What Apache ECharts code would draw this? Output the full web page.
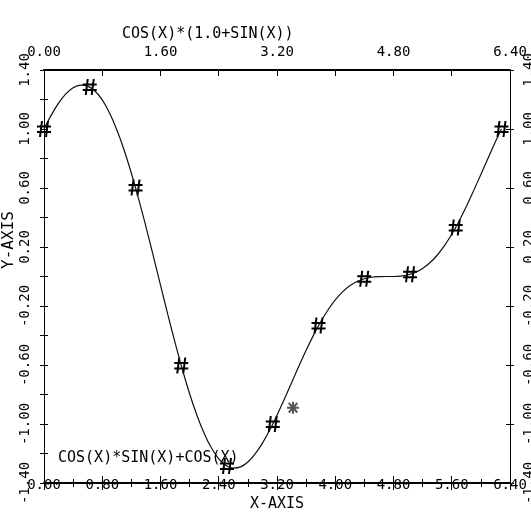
<!DOCTYPE html>
<html>
<head>
<meta charset="utf-8">
<script src="https://cdn.jsdelivr.net/npm/echarts@6/dist/echarts.min.js"></script>
<style>
  html, body { margin: 0; padding: 0; background: #fff; }
  #chart { width: 531px; height: 513px; }
</style>
</head>
<body>
<div id="chart"></div>
<script>
// curve samples
const xs = [0, 0.1, 0.2, 0.3, 0.4, 0.5, 0.6, 0.7, 0.8, 0.9, 1.0, 1.1, 1.2, 1.3, 1.4, 1.5,
  1.6, 1.7, 1.8, 1.9, 2.0, 2.1, 2.2, 2.3, 2.4, 2.5, 2.6, 2.7, 2.8, 2.9, 3.0, 3.1,
  3.2, 3.3, 3.4, 3.5, 3.6, 3.7, 3.8, 3.9, 4.0, 4.1, 4.2, 4.3, 4.4, 4.5, 4.6, 4.7,
  4.8, 4.9, 5.0, 5.1, 5.2, 5.3, 5.4, 5.5, 5.6, 5.7, 5.8, 5.9, 6.0, 6.1, 6.2, 6.2832];
const ys = [1.000, 1.094, 1.175, 1.238, 1.280, 1.298, 1.291, 1.258, 1.197, 1.109, 0.995, 0.858, 0.700, 0.525, 0.338, 0.141,
  -0.058, -0.257, -0.448, -0.629, -0.795, -0.941, -1.064, -1.163, -1.236, -1.281, -1.299, -1.291, -1.258, -1.203, -1.130, -1.041,
  -0.940, -0.832, -0.720, -0.608, -0.500, -0.399, -0.307, -0.227, -0.159, -0.104, -0.063, -0.034, -0.015, -0.005, -0.001, 0.000,
  0.000, 0.003, 0.012, 0.028, 0.055, 0.093, 0.144, 0.209, 0.286, 0.375, 0.474, 0.581, 0.692, 0.804, 0.914, 1.000];

// '#' markers
const markX = [0, 0.628, 1.257, 1.885, 2.513, 3.142, 3.770, 4.398, 5.027, 5.655, 6.283];
const markY = [1.000, 1.285, 0.603, -0.603, -1.285, -1.000, -0.333, -0.015, 0.015, 0.333, 1.000];

// stray '*' near the rising part
const starX = [3.42];
const starY = [-0.89];

// tick labels
const bottomLabels = [0, 0.8, 1.6, 2.4, 3.2, 4.0, 4.8, 5.6, 6.4];
const topLabels = [0, 1.6, 3.2, 4.8, 6.4];
const leftLabels = [-1.4, -1.0, -0.6, -0.2, 0.2, 0.6, 1.0, 1.4];

const FONT = 'DejaVu Sans Mono';
const seriesName = 'COS(X)*SIN(X)+COS(X)';

const hashPath = 'path://M4,0 L6,0 L4,16 L2,16 Z M10,0 L12,0 L10,16 L8,16 Z M0,4.5 L14,4.5 L14,6.5 L0,6.5 Z M0,10 L14,10 L14,12 L0,12 Z';
const starPath = 'path://M5,0 L7,0 L7,12 L5,12 Z M0,5 L12,5 L12,7 L0,7 Z M1,2 L2.5,0.5 L11,10 L9.5,11.5 Z M11,2 L2.5,11.5 L1,10 L9.5,0.5 Z';

function pick(list) {
  return function (v) {
    for (let i = 0; i < list.length; i++) {
      if (Math.abs(list[i] - v) < 1e-6) return list[i].toFixed(2);
    }
    return '';
  };
}

const black = '#000';
const lbl = { fontFamily: FONT, fontSize: 14, color: black };

const chart = echarts.init(document.getElementById('chart'), null, { renderer: 'canvas' });

chart.setOption({
  animation: false,
  backgroundColor: '#fff',
  textStyle: { fontFamily: FONT, color: black },
  title: {
    text: 'COS(X)*(1.0+SIN(X))',
    left: 122,
    top: 27,
    padding: 0,
    textStyle: { fontFamily: FONT, fontSize: 15, fontWeight: 'normal', color: black }
  },
  legend: {
    data: [seriesName],
    left: 53,
    top: 450,
    padding: 0,
    itemWidth: 0,
    itemHeight: 16,
    icon: 'none',
    selectedMode: false,
    textStyle: { fontFamily: FONT, fontSize: 15, color: black }
  },
  graphic: [{
    type: 'text',
    x: 9,
    y: 240,
    rotation: Math.PI / 2,
    style: { text: 'Y-AXIS', fontFamily: FONT, fontSize: 16, fill: black, align: 'center', verticalAlign: 'middle' }
  }],
  grid: { left: 44, right: 21, top: 70, bottom: 30, containLabel: false, outerBoundsMode: 'none' },
  xAxis: [
    {
      type: 'value', position: 'bottom', min: 0, max: 6.4, interval: 0.8,
      name: 'X-AXIS', nameLocation: 'middle', nameGap: 4,
      nameTextStyle: { fontFamily: FONT, fontSize: 15, color: black, verticalAlign: 'top' },
      axisLine: { onZero: false, lineStyle: { color: black, width: 2 } },
      axisTick: { length: 7, lineStyle: { color: black } },
      minorTick: { show: true, splitNumber: 2, length: 4, lineStyle: { color: black } },
      splitLine: { show: false },
      axisLabel: Object.assign({ margin: -5, formatter: pick(bottomLabels) }, lbl)
    },
    {
      type: 'value', position: 'top', min: 0, max: 6.4, interval: 0.8,
      axisLine: { onZero: false, lineStyle: { color: black, width: 2 } },
      axisTick: { inside: true, length: 6, lineStyle: { color: black } },
      splitLine: { show: false },
      axisLabel: Object.assign({ margin: 11, formatter: pick(topLabels) }, lbl)
    },
    {
      type: 'value', position: 'bottom', min: 0, max: 6.4, interval: 0.8,
      axisLine: { show: false, onZero: false },
      axisTick: { inside: true, length: 7, lineStyle: { color: black } },
      minorTick: { show: true, splitNumber: 2, length: 4, lineStyle: { color: black } },
      splitLine: { show: false },
      axisLabel: { show: false }
    }
  ],
  yAxis: [
    {
      type: 'value', position: 'left', min: -1.4, max: 1.4, interval: 0.2,
      axisLine: { onZero: false, lineStyle: { color: black, width: 1 } },
      axisTick: { length: 4, lineStyle: { color: black } },
      splitLine: { show: false },
      axisLabel: Object.assign({ rotate: 90, margin: 12, formatter: pick(leftLabels) }, lbl)
    },
    {
      type: 'value', position: 'right', min: -1.4, max: 1.4, interval: 0.4,
      axisLine: { onZero: false, lineStyle: { color: black, width: 1 } },
      axisTick: { length: 4, lineStyle: { color: black } },
      splitLine: { show: false },
      axisLabel: Object.assign({ rotate: 90, margin: 12, formatter: pick(leftLabels) }, lbl)
    },
    {
      type: 'value', position: 'left', min: -1.4, max: 1.4, interval: 0.2,
      axisLine: { show: false, onZero: false },
      axisTick: { inside: true, length: 4, lineStyle: { color: black } },
      splitLine: { show: false },
      axisLabel: { show: false }
    },
    {
      type: 'value', position: 'right', min: -1.4, max: 1.4, interval: 0.4,
      axisLine: { show: false, onZero: false },
      axisTick: { inside: true, length: 4, lineStyle: { color: black } },
      splitLine: { show: false },
      axisLabel: { show: false }
    }
  ],
  series: [
    {
      name: seriesName,
      type: 'line',
      xAxisIndex: 0,
      yAxisIndex: 0,
      showSymbol: false,
      symbol: 'none',
      smooth: 0.3,
      itemStyle: { color: black },
      lineStyle: { color: '#111', width: 1.2 },
      data: xs.map((x, i) => [x, ys[i]])
    },
    {
      name: 'marks',
      type: 'scatter',
      xAxisIndex: 0,
      yAxisIndex: 0,
      symbol: hashPath,
      symbolSize: [14, 16],
      itemStyle: { color: black, opacity: 1 },
      data: markX.map((x, i) => [x, markY[i]])
    },
    {
      name: 'star',
      type: 'scatter',
      xAxisIndex: 0,
      yAxisIndex: 0,
      symbol: starPath,
      symbolSize: 12,
      itemStyle: { color: '#555', opacity: 1 },
      data: starX.map((x, i) => [x, starY[i]])
    }
  ]
});
</script>
</body>
</html>
